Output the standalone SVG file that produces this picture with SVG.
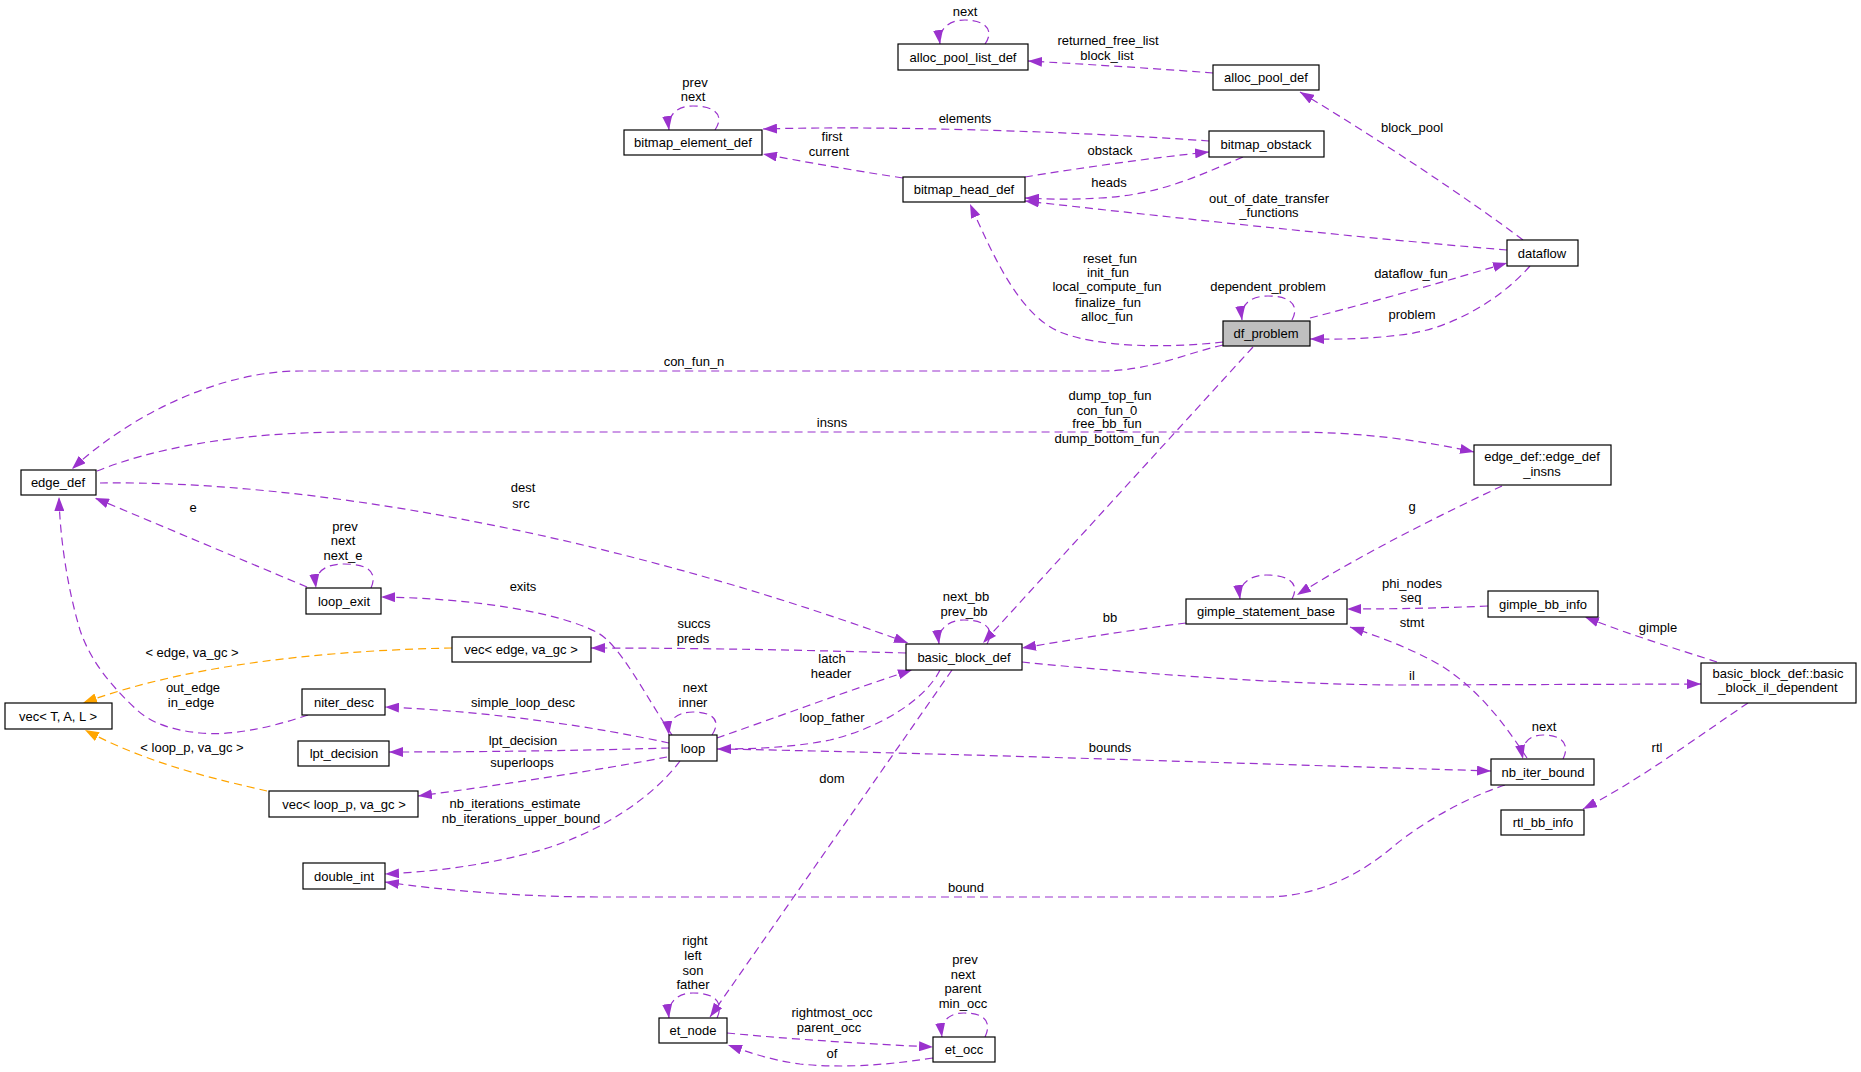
<svg xmlns="http://www.w3.org/2000/svg" width="1861" height="1072" viewBox="0 0 1861 1072">
<style>
text{font-family:"Liberation Sans",Arial,sans-serif;font-size:13px;fill:#000;text-anchor:middle}
.n rect{fill:#fff;stroke:#000;stroke-width:1.2}
.n rect.g{fill:#bfbfbf}
.e path{fill:none;stroke:#9a32cd;stroke-width:1.2;stroke-dasharray:8,5;marker-end:url(#ap)}
.e path.o{stroke:#ffa500;marker-end:url(#ao)}
</style>
<defs>
<marker id="ap" viewBox="0 0 14 10" refX="14" refY="5" markerWidth="14" markerHeight="10" markerUnits="userSpaceOnUse" orient="auto"><path d="M0,0 L14,5 L0,10 z" fill="#9a32cd"/></marker>
<marker id="ao" viewBox="0 0 14 10" refX="14" refY="5" markerWidth="14" markerHeight="10" markerUnits="userSpaceOnUse" orient="auto"><path d="M0,0 L14,5 L0,10 z" fill="#ffa500"/></marker>
</defs>
<rect width="1861" height="1072" fill="#fff"/>
<g class="e" id="connectors">
<path d="M985,44 C995,30 985,20 965,20 C948,20 938,30 940,44"/>
<path d="M1213,73 C1150,68 1080,64 1028,61"/>
<path d="M715,130 C725,115 715,106 693,106 C677,106 667,115 669,130"/>
<path d="M1209,141 C1100,133 900,125 763,129"/>
<path d="M903,178 C850,170 800,161 763,154"/>
<path d="M1025,177 C1080,168 1150,158 1209,152"/>
<path d="M1243,157 C1200,175 1160,195 1100,198 C1070,200 1045,199 1025,198"/>
<path d="M1523,240 C1470,200 1380,140 1300,92"/>
<path d="M1507,250 C1350,237 1150,215 1025,201"/>
<path d="M1223,342 C1170,348 1100,348 1060,332 C1020,315 995,260 970,204"/>
<path d="M1292,320 C1300,305 1290,296 1268,296 C1250,296 1240,305 1242,320"/>
<path d="M1310,318 C1380,300 1450,280 1507,263"/>
<path d="M1530,266 C1500,300 1450,330 1400,335 C1360,340 1330,339 1310,339"/>
<path d="M1223,345 C1180,355 1150,371 1100,371 L300,371 C220,371 130,415 72,469"/>
<path d="M97,471 C150,450 230,432 350,432 L1290,432 C1360,432 1420,440 1474,452"/>
<path d="M100,483 C300,480 600,530 908,643"/>
<path d="M307,587 L95,498"/>
<path d="M371,588 C378,572 368,564 344,564 C325,564 314,572 316,588"/>
<path d="M672,735 C645,695 620,645 598,633 C560,612 470,598 381,597"/>
<path d="M906,653 C800,650 700,648 591,648"/>
<path class="o" d="M452,648 C350,650 200,660 83,703"/>
<path d="M308,715 C270,728 230,736 200,733 C170,730 150,722 137,710 C110,685 90,660 80,630 C68,590 60,540 59,497"/>
<path d="M669,743 C600,728 500,712 385,707"/>
<path d="M712,735 C722,720 712,712 693,712 C677,712 667,720 669,735"/>
<path d="M717,738 C780,716 850,690 912,670"/>
<path d="M940,670 C925,700 880,728 830,740 C790,748 750,749 717,749"/>
<path d="M717,749 C900,752 1200,762 1491,771"/>
<path d="M669,748 C600,750 500,752 389,752"/>
<path d="M667,757 C600,770 500,785 418,796"/>
<path d="M680,761 C655,795 600,835 530,853 C480,866 430,872 385,874"/>
<path class="o" d="M267,791 C220,780 150,765 85,730"/>
<path d="M1505,785 C1460,800 1420,825 1395,845 C1360,875 1320,895 1270,897 L600,897 C520,897 440,890 385,882"/>
<path d="M952,670 L710,1017"/>
<path d="M1253,347 L983,643"/>
<path d="M987,644 C995,630 987,620 964,620 C948,620 937,630 939,644"/>
<path d="M1186,623 C1130,630 1070,640 1022,648"/>
<path d="M1022,662 C1150,675 1300,685 1400,685 L1701,684"/>
<path d="M1502,486 C1440,515 1360,555 1297,595"/>
<path d="M1292,599 C1300,584 1290,575 1266,575 C1250,575 1238,584 1240,599"/>
<path d="M1488,606 C1440,608 1400,609 1347,609"/>
<path d="M1527,758 C1505,725 1480,690 1440,665 C1410,648 1380,637 1350,627"/>
<path d="M1563,759 C1570,745 1563,735 1543,735 C1528,735 1520,745 1523,759"/>
<path d="M1717,662 C1680,650 1630,635 1585,617"/>
<path d="M1748,703 C1700,735 1640,780 1583,809"/>
<path d="M717,1018 C724,1003 716,993 693,993 C677,993 667,1003 669,1018"/>
<path d="M727,1033 C800,1040 870,1044 933,1047"/>
<path d="M933,1058 C880,1066 840,1068 800,1064 C770,1060 748,1052 728,1045"/>
<path d="M985,1037 C992,1022 985,1013 964,1013 C948,1013 940,1022 942,1037"/>
</g>
<g id="labels">
<text x="965" y="16">next</text>
<text x="1108" y="45">returned_free_list</text>
<text x="1107" y="60">block_list</text>
<text x="695" y="87">prev</text>
<text x="693" y="101">next</text>
<text x="965" y="123">elements</text>
<text x="832" y="141">first</text>
<text x="829" y="156">current</text>
<text x="1412" y="132">block_pool</text>
<text x="1110" y="155">obstack</text>
<text x="1109" y="187">heads</text>
<text x="1269" y="203">out_of_date_transfer</text>
<text x="1269" y="217">_functions</text>
<text x="1110" y="263">reset_fun</text>
<text x="1108" y="277">init_fun</text>
<text x="1107" y="291">local_compute_fun</text>
<text x="1108" y="307">finalize_fun</text>
<text x="1107" y="321">alloc_fun</text>
<text x="1268" y="291">dependent_problem</text>
<text x="1411" y="278">dataflow_fun</text>
<text x="1412" y="319">problem</text>
<text x="694" y="366">con_fun_n</text>
<text x="1110" y="400">dump_top_fun</text>
<text x="1107" y="415">con_fun_0</text>
<text x="1107" y="428">free_bb_fun</text>
<text x="1107" y="443">dump_bottom_fun</text>
<text x="832" y="427">insns</text>
<text x="523" y="492">dest</text>
<text x="521" y="508">src</text>
<text x="193" y="512">e</text>
<text x="1412" y="511">g</text>
<text x="345" y="531">prev</text>
<text x="343" y="545">next</text>
<text x="343" y="560">next_e</text>
<text x="1412" y="588">phi_nodes</text>
<text x="1411" y="602">seq</text>
<text x="523" y="591">exits</text>
<text x="966" y="601">next_bb</text>
<text x="964" y="616">prev_bb</text>
<text x="1110" y="622">bb</text>
<text x="1412" y="627">stmt</text>
<text x="1658" y="632">gimple</text>
<text x="694" y="628">succs</text>
<text x="693" y="643">preds</text>
<text x="192" y="657">&lt; edge, va_gc &gt;</text>
<text x="832" y="663">latch</text>
<text x="831" y="678">header</text>
<text x="1412" y="680">il</text>
<text x="695" y="692">next</text>
<text x="693" y="707">inner</text>
<text x="193" y="692">out_edge</text>
<text x="191" y="707">in_edge</text>
<text x="523" y="707">simple_loop_desc</text>
<text x="832" y="722">loop_father</text>
<text x="1544" y="731">next</text>
<text x="523" y="745">lpt_decision</text>
<text x="192" y="752">&lt; loop_p, va_gc &gt;</text>
<text x="1110" y="752">bounds</text>
<text x="1657" y="752">rtl</text>
<text x="522" y="767">superloops</text>
<text x="832" y="783">dom</text>
<text x="515" y="808">nb_iterations_estimate</text>
<text x="521" y="823">nb_iterations_upper_bound</text>
<text x="966" y="892">bound</text>
<text x="695" y="945">right</text>
<text x="693" y="960">left</text>
<text x="693" y="975">son</text>
<text x="693" y="989">father</text>
<text x="965" y="964">prev</text>
<text x="963" y="979">next</text>
<text x="963" y="993">parent</text>
<text x="963" y="1008">min_occ</text>
<text x="832" y="1017">rightmost_occ</text>
<text x="829" y="1032">parent_occ</text>
<text x="832" y="1058">of</text>
</g>
<g class="n" id="alloc_pool_list_def"><rect x="898" y="44" width="130" height="26"/><text x="963" y="61.5">alloc_pool_list_def</text></g>
<g class="n" id="alloc_pool_def"><rect x="1213" y="65" width="106" height="25"/><text x="1266" y="82">alloc_pool_def</text></g>
<g class="n" id="bitmap_element_def"><rect x="624" y="130" width="138" height="25"/><text x="693" y="147">bitmap_element_def</text></g>
<g class="n" id="bitmap_obstack"><rect x="1209" y="131" width="115" height="26"/><text x="1266" y="148.5">bitmap_obstack</text></g>
<g class="n" id="bitmap_head_def"><rect x="903" y="177" width="122" height="25"/><text x="964" y="194">bitmap_head_def</text></g>
<g class="n" id="dataflow"><rect x="1507" y="240" width="71" height="26"/><text x="1542" y="257.5">dataflow</text></g>
<g class="n" id="df_problem"><rect class="g" x="1223" y="321" width="87" height="25"/><text x="1266" y="338">df_problem</text></g>
<g class="n" id="edge_def"><rect x="21" y="470" width="75" height="25"/><text x="58" y="487">edge_def</text></g>
<g class="n" id="edge_def_insns"><rect x="1474" y="445" width="137" height="40"/><text x="1542" y="461">edge_def::edge_def</text><text x="1542" y="476">_insns</text></g>
<g class="n" id="loop_exit"><rect x="306" y="588" width="75" height="26"/><text x="344" y="605.5">loop_exit</text></g>
<g class="n" id="vec_edge"><rect x="452" y="637" width="139" height="25"/><text x="521" y="654">vec&lt; edge, va_gc &gt;</text></g>
<g class="n" id="basic_block_def"><rect x="906" y="644" width="116" height="26"/><text x="964" y="661.5">basic_block_def</text></g>
<g class="n" id="gimple_statement_base"><rect x="1186" y="599" width="161" height="25"/><text x="1266" y="616">gimple_statement_base</text></g>
<g class="n" id="gimple_bb_info"><rect x="1488" y="591" width="110" height="26"/><text x="1543" y="608.5">gimple_bb_info</text></g>
<g class="n" id="vec_TAL"><rect x="5" y="703" width="107" height="26"/><text x="58" y="720.5">vec&lt; T, A, L &gt;</text></g>
<g class="n" id="niter_desc"><rect x="302" y="689" width="83" height="26"/><text x="344" y="706.5">niter_desc</text></g>
<g class="n" id="bb_il_dependent"><rect x="1701" y="663" width="155" height="40"/><text x="1778" y="678">basic_block_def::basic</text><text x="1778" y="692">_block_il_dependent</text></g>
<g class="n" id="loop"><rect x="669" y="735" width="48" height="26"/><text x="693" y="752.5">loop</text></g>
<g class="n" id="lpt_decision"><rect x="298" y="741" width="91" height="25"/><text x="344" y="758">lpt_decision</text></g>
<g class="n" id="nb_iter_bound"><rect x="1491" y="759" width="103" height="26"/><text x="1543" y="776.5">nb_iter_bound</text></g>
<g class="n" id="vec_loop_p"><rect x="269" y="791" width="149" height="26"/><text x="344" y="808.5">vec&lt; loop_p, va_gc &gt;</text></g>
<g class="n" id="rtl_bb_info"><rect x="1501" y="810" width="83" height="25"/><text x="1543" y="827">rtl_bb_info</text></g>
<g class="n" id="double_int"><rect x="303" y="863" width="82" height="26"/><text x="344" y="880.5">double_int</text></g>
<g class="n" id="et_node"><rect x="659" y="1018" width="68" height="25"/><text x="693" y="1035">et_node</text></g>
<g class="n" id="et_occ"><rect x="933" y="1037" width="62" height="25"/><text x="964" y="1054">et_occ</text></g>
</svg>
